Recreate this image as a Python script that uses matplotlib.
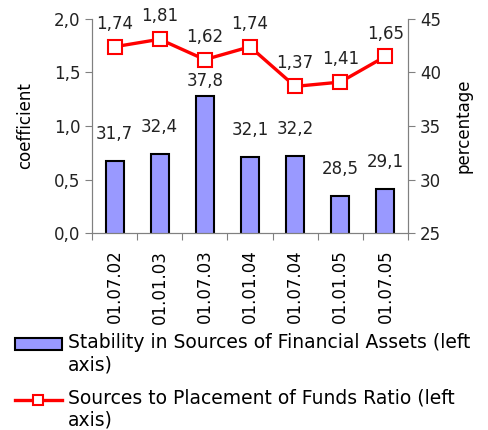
import matplotlib.pyplot as plt
from matplotlib.lines import Line2D
from matplotlib.patches import Patch
from matplotlib.legend_handler import HandlerPatch, HandlerLine2D

dates = ["01.07.02", "01.01.03", "01.07.03", "01.01.04", "01.07.04", "01.01.05", "01.07.05"]
stability = [31.7, 32.4, 37.8, 32.1, 32.2, 28.5, 29.1]
ratio = [1.74, 1.81, 1.62, 1.74, 1.37, 1.41, 1.65]

plt.rcParams['font.family'] = ['DejaVu Sans']
fs = 12
SHIFT = 7.5  # points, lifts legend handles to the first text line


class UpPatch(HandlerPatch):
    def create_artists(self, legend, orig_handle, xdescent, ydescent, width, height, fontsize, trans):
        return super().create_artists(legend, orig_handle, xdescent, ydescent - SHIFT,
                                      width, height, fontsize, trans)


class UpLine(HandlerLine2D):
    def create_artists(self, legend, orig_handle, xdescent, ydescent, width, height, fontsize, trans):
        return super().create_artists(legend, orig_handle, xdescent, ydescent - 2 * SHIFT,
                                      width, height, fontsize, trans)


fig = plt.figure(figsize=(4.88, 4.30), dpi=100)
ax = fig.add_axes([0.1885, 0.458, 0.6475, 0.498])
ax2 = ax.twinx()

x = list(range(len(dates)))

# bars are read on the right (percentage) axis
ax.bar(x, stability, width=0.4, color="#9999ff", edgecolor="black", linewidth=1.5, zorder=2)
top = max(stability)
for xi, v in zip(x, stability):
    # the tallest label sits closer so it clears the line
    off = 4 if v == top else 13
    ax.annotate(f"{v:.1f}".replace(".", ","), (xi, v), xytext=(0, off), textcoords="offset points",
                ha="center", va="bottom", fontsize=fs, color="#222222")
ax.set_ylim(25, 45)
ax.set_yticks([25, 30, 35, 40, 45])
ax.yaxis.tick_right()
ax.yaxis.set_label_position("right")
ax.set_ylabel("percentage", fontsize=fs, labelpad=10)

# line is read on the left (coefficient) axis
ax2.plot(x, ratio, color="red", lw=2.4, marker="s", markersize=10, markerfacecolor="white",
         markeredgecolor="red", markeredgewidth=1.5, zorder=3)
for xi, v in zip(x, ratio):
    ax2.annotate(f"{v:.2f}".replace(".", ","), (xi, v), xytext=(0, 10), textcoords="offset points",
                 ha="center", va="bottom", fontsize=fs, color="#222222")
ax2.set_ylim(0, 2.0)
ax2.set_yticks([0, 0.5, 1.0, 1.5, 2.0])
ax2.set_yticklabels(["0,0", "0,5", "1,0", "1,5", "2,0"])
ax2.yaxis.tick_left()
ax2.yaxis.set_label_position("left")
ax2.set_ylabel("coefficient", fontsize=fs, labelpad=14)

ax.set_xlim(-0.5, len(dates) - 0.5)
ax.set_xticks([i + 0.5 for i in range(-1, len(dates))])
ax.set_xticklabels([])
ax.set_xticks(x, minor=True)
ax.set_xticklabels(dates, minor=True, rotation=90, fontsize=fs)
ax.tick_params(axis="x", which="minor", length=0, pad=12)
ax.tick_params(axis="x", which="major", length=5, color="#808080")

for a in (ax, ax2):
    a.spines["top"].set_visible(False)
    for s in ("left", "right", "bottom"):
        a.spines[s].set_color("#808080")
    a.tick_params(axis="y", labelsize=fs, length=5, color="#808080", labelcolor="#222222")

bar_handle = Patch(facecolor="#9999ff", edgecolor="black", linewidth=1.5)
line_handle = Line2D([0], [0], color="red", lw=2.4, marker="s", markersize=7,
                     markerfacecolor="white", markeredgecolor="red", markeredgewidth=1.5)
labels = ["Stability in Sources of Financial Assets (left\naxis)",
          "Sources to Placement of Funds Ratio (left\naxis)"]
fig.legend([bar_handle, line_handle], labels, loc="upper left", bbox_to_anchor=(0.03, 0.225),
           frameon=False, fontsize=13.5, handlelength=2.5, handleheight=0.6, handletextpad=0.35,
           labelspacing=0.75, borderaxespad=0, borderpad=0,
           handler_map={Patch: UpPatch(), Line2D: UpLine()})

fig.savefig("out.png", dpi=100)
